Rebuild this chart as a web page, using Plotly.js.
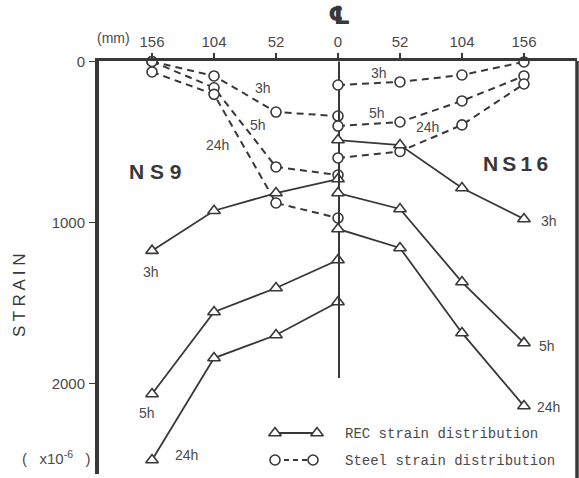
<!DOCTYPE html>
<html>
<head>
<meta charset="utf-8">
<script src="https://cdn.plot.ly/plotly-3.0.1.min.js"></script>
<style>
  html, body { margin: 0; padding: 0; background: #fff; }
  #chart { width: 579px; height: 478px; }
</style>
</head>
<body>
<div id="chart"></div>
<script>
// Positions across the section (mm from centre line)
const posNS9 = [156, 104, 52, 0];
const posNS16 = [0, 52, 104, 156];
const tickPositions = [156, 104, 52];
const tickLabels = ['156', '104', '52'];
const strainTicks = [0, 1000, 2000];
const strainTickLabels = ['0', '1000', '2000'];

// NS9 (left panel) strains (x10^-6)
const ns9Steel3h = [0, 90, 314, 339];
const ns9Steel5h = [0, 163, 655, 705];
const ns9Steel24h = [65, 204, 879, 972];
const ns9Rec3h = [1175, 927, 817, 730];
const ns9Rec5h = [2065, 1556, 1407, 1233];
const ns9Rec24h = [2475, 1842, 1699, 1494];

// NS16 (right panel) strains (x10^-6)
const ns16Steel3h = [146, 127, 84, 3];
const ns16Steel5h = [401, 376, 245, 90];
const ns16Steel24h = [599, 559, 394, 140];
const ns16Rec3h = [488, 519, 786, 978];
const ns16Rec5h = [817, 916, 1370, 1748];
const ns16Rec24h = [1040, 1158, 1686, 2140];

const INK = '#383838';
const TXT = '#4a4a4a';
const recLine = { color: INK, width: 1.8 };
const steelLine = { color: INK, width: 2, dash: '7px,5px' };
const triMarker = { symbol: 'triangle-up', size: 11, color: '#fff', line: { color: INK, width: 1.6 } };
const circMarker = { symbol: 'circle', size: 10, color: '#fff', line: { color: INK, width: 1.6 } };

function tr(x, y, kind, xa) {
  const steel = kind === 'steel';
  return {
    x: x, y: y, type: 'scatter', mode: 'lines+markers',
    xaxis: xa, yaxis: 'y', showlegend: false, hoverinfo: 'skip',
    line: steel ? steelLine : recLine,
    marker: steel ? circMarker : triMarker,
    cliponaxis: false
  };
}

const traces = [
  tr(posNS9, ns9Steel3h, 'steel', 'x'),
  tr(posNS9, ns9Steel5h, 'steel', 'x'),
  tr(posNS9, ns9Steel24h, 'steel', 'x'),
  tr(posNS9, ns9Rec3h, 'rec', 'x'),
  tr(posNS9, ns9Rec5h, 'rec', 'x'),
  tr(posNS9, ns9Rec24h, 'rec', 'x'),
  tr(posNS16, ns16Steel3h, 'steel', 'x2'),
  tr(posNS16, ns16Steel5h, 'steel', 'x2'),
  tr(posNS16, ns16Steel24h, 'steel', 'x2'),
  tr(posNS16, ns16Rec3h, 'rec', 'x2'),
  tr(posNS16, ns16Rec5h, 'rec', 'x2'),
  tr(posNS16, ns16Rec24h, 'rec', 'x2')
];

// Plot area in pixels (for placing decorations)
const PL = 99, PR = 577, PT = 61, PB = 474;
const px = v => (v - PL) / (PR - PL);
const py = v => (PB - v) / (PB - PT);

// Legend samples, drawn on a hidden full-area axis pair (pixel-like range)
const legendRecX = [275, 317];
const legendRecY = [433, 433];
const legendSteelX = [275, 313];
const legendSteelY = [460, 460];
traces.push({ x: legendRecX, y: legendRecY, xaxis: 'x3', yaxis: 'y3', type: 'scatter', mode: 'lines+markers',
  line: recLine, marker: triMarker, showlegend: false, hoverinfo: 'skip', cliponaxis: false });
traces.push({ x: legendSteelX, y: legendSteelY, xaxis: 'x3', yaxis: 'y3', type: 'scatter', mode: 'lines+markers',
  line: { color: INK, width: 2, dash: '5px,4px' }, marker: circMarker, showlegend: false, hoverinfo: 'skip', cliponaxis: false });

const tickFont = { family: 'Liberation Sans Narrow, Liberation Sans, sans-serif', size: 15, color: TXT };
const lblFont = { family: 'Liberation Sans Narrow, Liberation Sans, sans-serif', size: 14, color: TXT };

function lbl(text, x, y, xref) {
  return { text: text, x: x, y: y, xref: xref, yref: 'y', showarrow: false, font: lblFont, xanchor: 'center', yanchor: 'middle' };
}
function pix(text, x, y, font, xanchor, angle) {
  return { text: text, x: px(x), y: py(y), xref: 'paper', yref: 'paper', showarrow: false, font: font,
    xanchor: xanchor || 'center', yanchor: 'middle', textangle: angle || 0 };
}

const annotations = [
  lbl('3h', 63, 165, 'x'),
  lbl('5h', 67, 394, 'x'),
  lbl('24h', 101, 519, 'x'),
  lbl('3h', 157, 1307, 'x'),
  lbl('5h', 160, 2183, 'x'),
  lbl('24h', 127, 2444, 'x'),
  lbl('3h', 34, 71, 'x2'),
  lbl('5h', 33, 320, 'x2'),
  lbl('24h', 75, 407, 'x2'),
  lbl('3h', 177, 991, 'x2'),
  lbl('5h', 175, 1767, 'x2'),
  lbl('24h', 177, 2146, 'x2'),
  pix('N S 9', 155, 171, { family: 'Liberation Sans, Arial, sans-serif', size: 21, color: INK, weight: 'bold' }),
  pix('N\u2009S\u20091\u20096', 515, 163, { family: 'Liberation Sans, Arial, sans-serif', size: 21, color: INK, weight: 'bold' }),
  pix('S T R A I N', 19, 296, { family: 'Liberation Sans, sans-serif', size: 17, color: INK }, 'center', -90),
  pix('(   x10<sup>-6</sup>   )', 56, 457, { family: 'Liberation Sans, sans-serif', size: 15, color: TXT }),
  pix('(mm)', 113, 38, lblFont),
  pix('\u2104', 339, 16, { family: 'DejaVu Sans, sans-serif', size: 25, color: INK, weight: 'bold' }),
  pix('REC strain distribution', 343, 434, { family: 'Liberation Mono, DejaVu Sans Mono, monospace', size: 14, color: TXT }, 'left'),
  pix('Steel strain distribution', 343, 461, { family: 'Liberation Mono, DejaVu Sans Mono, monospace', size: 14, color: TXT }, 'left')
];

const yMax = 2562, yMin = -3;

const layout = {
  width: 579, height: 478,
  margin: { l: PL, r: 579 - PR, t: PT, b: 478 - PB },
  paper_bgcolor: '#fff', plot_bgcolor: 'rgba(0,0,0,0)',
  showlegend: false,
  xaxis: {
    domain: [0, 0.5], range: [200.5, 0], side: 'top', anchor: 'y',
    tickvals: tickPositions, ticktext: tickLabels, ticks: 'outside', ticklen: 5, tickwidth: 1.5, tickcolor: INK,
    showline: true, linecolor: INK, linewidth: 3.5, showgrid: false, zeroline: false,
    tickfont: tickFont, fixedrange: true
  },
  xaxis2: {
    domain: [0.5, 1], range: [0, 200.5], side: 'top', anchor: 'y',
    tickvals: [0, 52, 104, 156], ticktext: ['0', '52', '104', '156'], ticks: 'outside', ticklen: 5, tickwidth: 1.5, tickcolor: INK,
    showline: true, linecolor: INK, linewidth: 3.5, showgrid: false, zeroline: false,
    tickfont: tickFont, fixedrange: true
  },
  yaxis: {
    domain: [0, 1], range: [yMax, yMin], anchor: 'x',
    tickvals: strainTicks, ticktext: strainTickLabels, ticks: 'outside', ticklen: 6, tickwidth: 1.5, tickcolor: INK,
    showline: true, linecolor: INK, linewidth: 4, showgrid: false, zeroline: false,
    tickfont: tickFont, ticklabelstandoff: 1, fixedrange: true
  },
  xaxis3: { domain: [0, 1], range: [PL, PR], visible: false, anchor: 'y3', fixedrange: true },
  yaxis3: { domain: [0, 1], range: [PB, PT], visible: false, anchor: 'x3', fixedrange: true },
  shapes: [
    { type: 'line', xref: 'paper', yref: 'paper', x0: 1, x1: 1, y0: -0.02, y1: 1, line: { color: INK, width: 3.5 } },
    { type: 'line', xref: 'x2', yref: 'y', x0: 0, x1: 0, y0: 0, y1: 1966, line: { color: INK, width: 4 }, layer: 'below' }
  ],
  annotations: annotations
};

Plotly.newPlot('chart', traces, layout, { staticPlot: true, displayModeBar: false });
</script>
</body>
</html>
